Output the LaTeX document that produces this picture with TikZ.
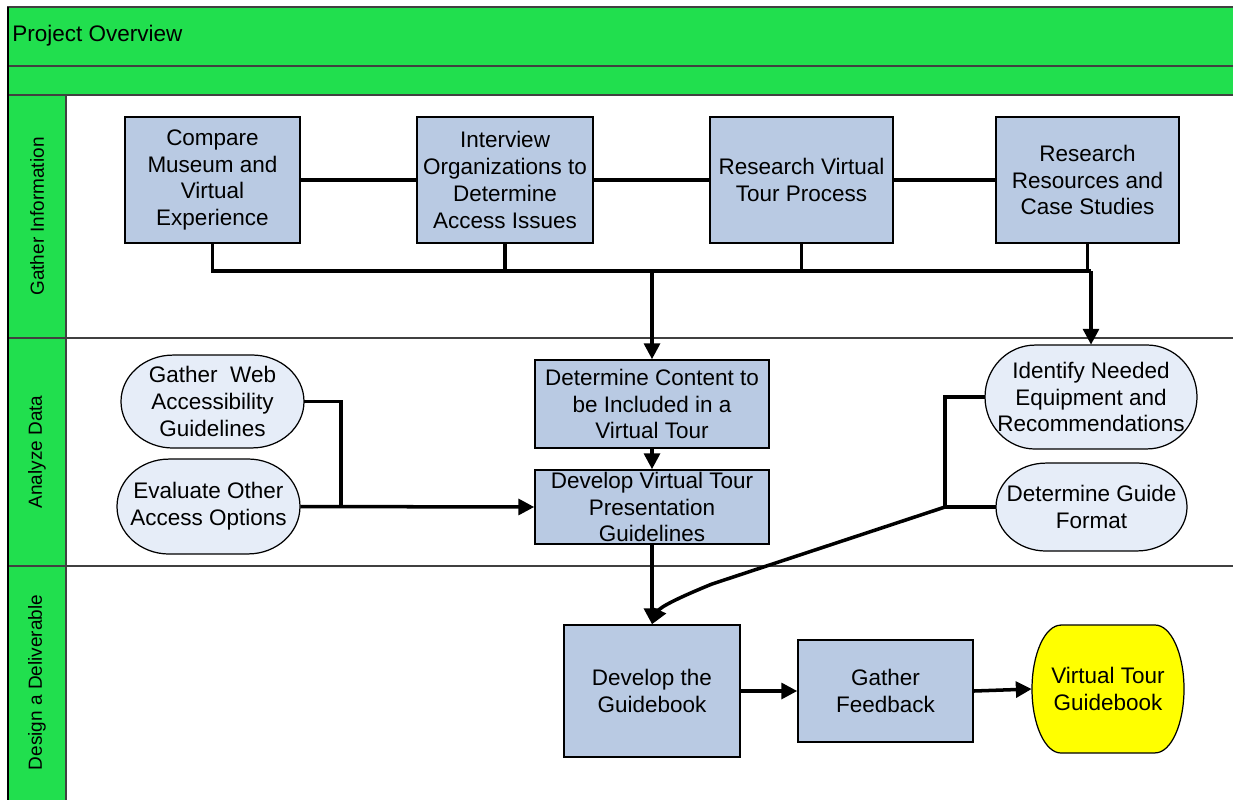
\documentclass[tikz,border=0pt]{standalone}
\usepackage{fontspec}
\setmainfont{Liberation Sans}
\usetikzlibrary{arrows.meta}
\definecolor{lanegreen}{HTML}{21DF4E}
\definecolor{boxblue}{HTML}{B9CAE3}
\definecolor{paleblue}{HTML}{E6EDF8}
\definecolor{framegray}{HTML}{404040}
\definecolor{termyellow}{HTML}{FFFF00}
\newcommand\termshape[6]{%
  \path[draw=black,line width=0.7pt,fill=#6]
    ({#1-#3/2+#5},{#2-#4/2}) -- ({#1+#3/2-#5},{#2-#4/2})
    arc[start angle=90,end angle=-90,x radius={#5*0.02cm},y radius={#4*0.01cm}]
    -- ({#1-#3/2+#5},{#2+#4/2})
    arc[start angle=-90,end angle=-270,x radius={#5*0.02cm},y radius={#4*0.01cm}]
    -- cycle;}
\begin{document}
\begin{tikzpicture}[x=0.02cm,y=-0.02cm,
  every node/.style={font=\fontsize{12.8}{15.3}\selectfont, align=center, inner sep=0pt},
  procbox/.style={draw=black, line width=0.9pt, fill=boxblue},
  lanelabel/.style={rotate=90, font=\fontsize{10.8}{12}\selectfont},
  conn/.style={line width=2pt},
  arr/.style={conn,-{Triangle[length=9pt,width=9pt]}},
  thinline/.style={draw=framegray, line width=0.6pt},
]
\useasboundingbox (0,0) rectangle (1233,799);
\clip (0,0) rectangle (1233,799);
\fill[white] (0,0) rectangle (1233,799);
% header and lane column
\path[fill=lanegreen, thinline] (8,7) rectangle (1245,66);
\path[fill=lanegreen, thinline] (8,66) rectangle (1245,95);
\path[fill=lanegreen, thinline] (8,95) rectangle (66,810);
\draw[thinline] (66,338) -- (1245,338);
\draw[thinline] (8,338) -- (66,338);
\draw[thinline] (8,566) -- (1245,566);
\draw[thinline] (66,95) -- (66,810);
\draw[draw=black, line width=1pt] (8,7) -- (8,810);
\node[anchor=west] (title) at (12,36) {Project Overview};
\node[lanelabel] (lane1) at (37,216.5) {Gather Information};
\node[lanelabel] (lane2) at (37,452) {Analyze Data};
\node[lanelabel] (lane3) at (37,682.5) {Design a Deliverable};

% process boxes
\node[procbox, minimum width=3.5cm, minimum height=2.52cm] (A) at (212.5,180) {Compare\\Museum and\\Virtual\\Experience};
\node[procbox, minimum width=3.52cm, minimum height=2.52cm] (B) at (505,180) {Interview\\Organizations to\\Determine\\Access Issues};
\node[procbox, minimum width=3.66cm, minimum height=2.52cm] (C) at (801.5,180) {Research Virtual\\Tour Process};
\node[procbox, minimum width=3.66cm, minimum height=2.52cm] (D) at (1087.5,180) {Research\\Resources and\\Case Studies};
\node[procbox, minimum width=4.68cm, minimum height=1.76cm] (E) at (652,404) {Determine Content to\\be Included in a\\Virtual Tour};
\node[procbox, minimum width=4.68cm, minimum height=1.48cm] (F) at (652,507) {};
\node (Ft) at (652,507) {Develop Virtual Tour\\Presentation\\Guidelines};
\node[procbox, minimum width=3.52cm, minimum height=2.64cm] (L) at (652,691) {Develop the\\Guidebook};
\node[procbox, minimum width=3.5cm, minimum height=2.04cm] (M) at (885.5,691) {Gather\\Feedback};

% terminal shapes
\termshape{212.5}{401.5}{183}{93}{52}{paleblue}
\node[minimum width=3.66cm, minimum height=1.86cm] (G) at (212.5,401.5) {Gather\ \ Web\\Accessibility\\Guidelines};
\termshape{208.5}{506.5}{183}{95}{52}{paleblue}
\node[minimum width=3.66cm, minimum height=1.9cm] (H) at (208.5,506.5) {Evaluate Other\\Access Options};
\termshape{1091}{397}{212}{104}{50}{paleblue}
\node[minimum width=4.24cm, minimum height=2.08cm] (I) at (1091,397) {Identify Needed\\Equipment and\\Recommendations};
\termshape{1091.5}{507}{191}{88}{50}{paleblue}
\node[minimum width=3.82cm, minimum height=1.76cm] (K) at (1091.5,507) {Determine Guide\\Format};
\termshape{1108}{689}{152}{128}{29}{termyellow}
\node[minimum width=3.04cm, minimum height=2.56cm] (N) at (1108,689) {Virtual Tour\\Guidebook};

% connectors
\coordinate (bus) at (0,271);
\coordinate (m1) at (341,0);
\coordinate (J) at (945,507);
\coordinate (bend) at (712,584);
\coordinate (c1) at (680,597);
\coordinate (c2) at (660,607);
\draw[conn] (A.east) -- (B.west);
\draw[conn] (B.east) -- (C.west);
\draw[conn] (C.east) -- (D.west);
\draw[conn] (A.south) -- (A.south|-bus) -- (I.north|-bus);
\draw[conn] (B.south) -- (B.south|-bus);
\draw[conn] (C.south) -- (C.south|-bus);
\draw[conn] (D.south) -- (D.south|-bus);
\draw[arr] (E.north|-bus) -- (E.north);
\draw[arr] (I.north|-bus) -- (I.north);
\draw[arr] (E.south) -- (F.north);
\draw[conn] (G.east) -- (m1|-G.east) -- (m1|-H.east);
\draw[arr] (H.east) -- (F.west);
\draw[conn] (I.west) -- (J|-I.west) -- (J);
\draw[conn] (K.west) -- (J);
\draw[arr] (J) -- (bend) .. controls (c1) and (c2) .. (L.north);
\draw[arr] (F.south) -- (L.north);
\draw[arr] (L.east) -- (M.west);
\draw[arr] (M.east) -- (N.west);
\end{tikzpicture}
\end{document}
